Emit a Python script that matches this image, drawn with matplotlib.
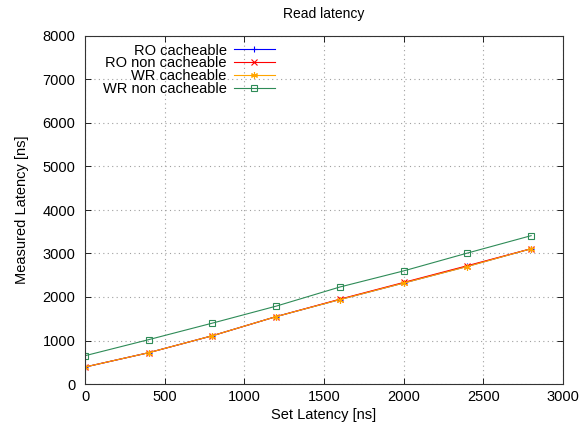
import matplotlib
matplotlib.use("Agg")
import matplotlib.pyplot as plt

set_latency = [0, 400, 800, 1200, 1600, 2000, 2400, 2800]
ro_cacheable = [390, 720, 1110, 1550, 1942, 2322, 2705, 3110]
ro_non_cacheable = [390, 720, 1110, 1550, 1950, 2335, 2720, 3110]
wr_cacheable = [390, 720, 1110, 1550, 1940, 2320, 2700, 3110]
wr_non_cacheable = [650, 1020, 1400, 1790, 2230, 2600, 3010, 3410]

labels = ["RO cacheable", "RO non cacheable", "WR cacheable", "WR non cacheable"]
colors = ["#0000ff", "#ff0000", "#ffa500", "#2e8b57"]
markers = ["+", "x", (6, 2, 0), "s"]
xticks = [0, 500, 1000, 1500, 2000, 2500, 3000]
yticks = [0, 1000, 2000, 3000, 4000, 5000, 6000, 7000, 8000]

plt.rcParams["font.family"] = ["Liberation Sans", "DejaVu Sans"]
plt.rcParams["font.size"] = 10

fig = plt.figure(figsize=(5.84, 4.23), dpi=100)
ax = fig.add_axes([85 / 584, 39 / 423, (563 - 85) / 584, (384 - 36) / 423])

series = [ro_cacheable, ro_non_cacheable, wr_cacheable, wr_non_cacheable]
for ys, lab, c, m in zip(series, labels, colors, markers):
    kw = dict(markerfacecolor="none") if m == "s" else {}
    ax.plot(set_latency, ys, color=c, marker=m, markersize=5,
            linewidth=0.8, markeredgewidth=0.8, label=lab, **kw)

ax.set_xlim(0, 3000)
ax.set_ylim(0, 8000)
ax.set_xticks(xticks)
ax.set_yticks(yticks)
ax.tick_params(direction="in", top=True, right=True, length=4, width=0.6,
               colors="#000000", labelsize=10.5)
ax.tick_params(axis="y", pad=7)
ax.tick_params(axis="x", pad=4)
ax.grid(True, linestyle=(0, (1, 3)), color="#a0a0a0", linewidth=0.8)
for s in ax.spines.values():
    s.set_linewidth(0.8)
    s.set_color("#333333")

ax.set_xlabel("Set Latency [ns]", fontsize=10.5, labelpad=3)
ax.set_ylabel("Measured Latency [ns]", fontsize=10.5, labelpad=10)
ax.set_title("Read latency", fontsize=10, pad=13)

leg = ax.legend(loc="upper left", markerfirst=False, frameon=False, fontsize=10.5,
                handlelength=2.8, labelspacing=-0.08, borderaxespad=0.0,
                bbox_to_anchor=(0.025, 0.995), handletextpad=0.5)
for vp in leg._legend_handle_box.get_children():
    vp.align = "right"

fig.savefig("out.png", dpi=100)
